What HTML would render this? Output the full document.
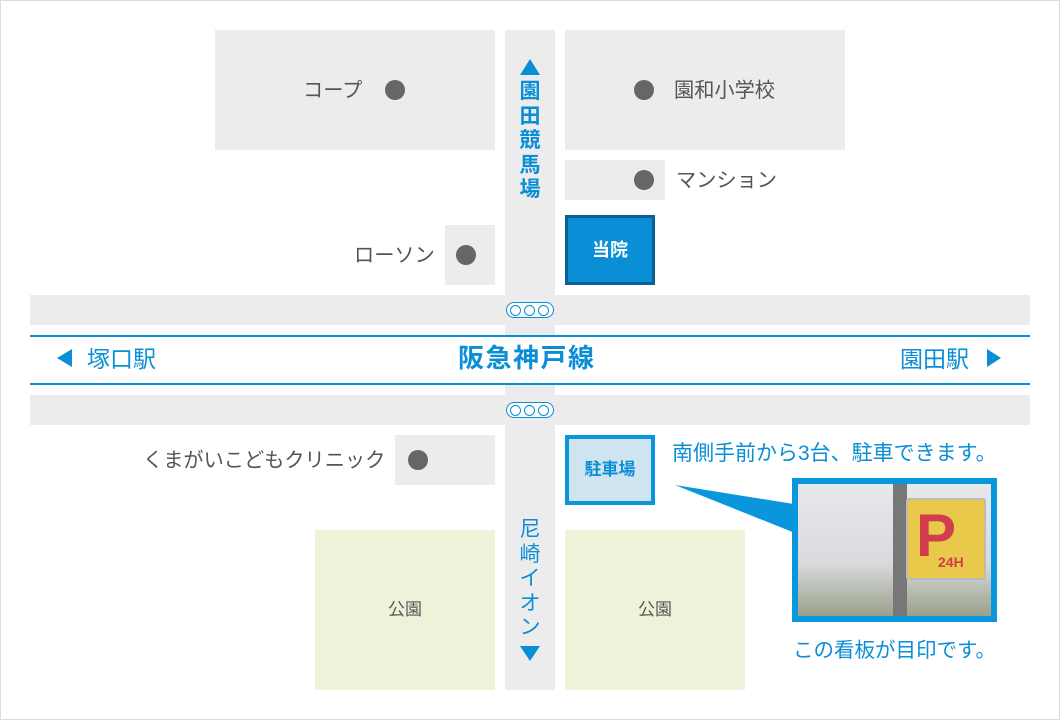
<!DOCTYPE html>
<html><head><meta charset="utf-8"><style>
*{margin:0;padding:0;box-sizing:border-box}
body{width:1060px;height:720px;background:#fff;position:relative;overflow:hidden;font-family:"Liberation Sans","Noto Sans CJK JP",sans-serif}
.a{position:absolute}
.g{background:#ececec}
.t{position:absolute;color:#555;font-size:20.2px;white-space:nowrap;line-height:1}
.b{position:absolute;color:#0a8ed6;font-size:23px;white-space:nowrap;line-height:1}
.dot{position:absolute;width:20px;height:20px;border-radius:50%;background:#666}
.sig{position:absolute;width:48px;height:16px;border:1.5px solid #0a8ed6;border-radius:8px;background:#fff}
.sig i{position:absolute;top:2px;width:11px;height:11px;border:1.5px solid #0a8ed6;border-radius:50%}
.vt{position:absolute;color:#0a8ed6;font-size:21px;line-height:24.5px;width:50px;text-align:center;font-weight:bold}
</style></head><body>
<div class="a" style="left:0;top:0;width:1060px;height:720px;border:1px solid #ddd"></div>
<div class="a g" style="left:505px;top:30px;width:50px;height:660px"></div>
<div class="a g" style="left:30px;top:295px;width:1000px;height:30px"></div>
<div class="a g" style="left:30px;top:395px;width:1000px;height:30px"></div>
<div class="a" style="left:30px;top:335px;width:1000px;height:2px;background:#0a8ed6"></div>
<div class="a" style="left:30px;top:383px;width:1000px;height:2px;background:#0a8ed6"></div>
<div class="a" style="left:30px;top:337px;width:1000px;height:46px;background:#fff"></div>
<div class="sig" style="left:506px;top:302px"><i style="left:3px"></i><i style="left:17px"></i><i style="left:31px"></i></div>
<div class="sig" style="left:506px;top:402px"><i style="left:3px"></i><i style="left:17px"></i><i style="left:31px"></i></div>
<div class="a g" style="left:215px;top:30px;width:280px;height:120px"></div>
<div class="t" style="left:303px;top:81px">コープ</div><div class="dot" style="left:385px;top:80px"></div>
<div class="a g" style="left:565px;top:30px;width:280px;height:120px"></div>
<div class="dot" style="left:634px;top:80px"></div><div class="t" style="left:674px;top:81px">園和小学校</div>
<div class="a g" style="left:565px;top:160px;width:100px;height:40px"></div>
<div class="dot" style="left:634px;top:170px"></div><div class="t" style="left:676px;top:171px">マンション</div>
<div class="a" style="left:565px;top:215px;width:90px;height:70px;background:#0a8ed6;border:3px solid #0a5f95"></div>
<div class="a" style="left:565px;top:240px;width:90px;text-align:center;color:#fff;font-weight:bold;font-size:18px;line-height:20px">当院</div>
<div class="a g" style="left:445px;top:225px;width:50px;height:60px"></div>
<div class="dot" style="left:456px;top:245px"></div><div class="t" style="left:354px;top:246px">ローソン</div>
<div class="a g" style="left:395px;top:435px;width:100px;height:50px"></div>
<div class="dot" style="left:408px;top:450px"></div><div class="t" style="left:143px;top:451px">くまがいこどもクリニック</div>
<div class="a" style="left:565px;top:435px;width:90px;height:70px;background:#cfe4f1;border:4px solid #0a96dc"></div>
<div class="a" style="left:565px;top:460px;width:90px;text-align:center;color:#0a8ed6;font-weight:bold;font-size:17px;line-height:20px">駐車場</div>
<div class="a" style="left:315px;top:530px;width:180px;height:160px;background:#eef2d9"></div>
<div class="t" style="left:315px;top:601px;width:180px;text-align:center;font-size:17px">公園</div>
<div class="a" style="left:565px;top:530px;width:180px;height:160px;background:#eef2d9"></div>
<div class="t" style="left:565px;top:601px;width:180px;text-align:center;font-size:17px">公園</div>
<svg class="a" style="left:0;top:0" width="1060" height="720">
<polygon points="520,75 540,75 530,59" fill="#0a8ed6"/>
<polygon points="520,646 540,646 530,661" fill="#0a8ed6"/>
<polygon points="57,358 72,349 72,367" fill="#0a8ed6"/>
<polygon points="1001,358 987,349 987,367" fill="#0a8ed6"/>
<polygon points="675,485 800,505 800,535" fill="#0a96dc"/>
</svg>
<div class="vt" style="left:505px;top:80px">園<br>田<br>競<br>馬<br>場</div>
<div class="vt" style="left:505px;top:518px;font-weight:normal">尼<br>崎<br>イ<br>オ<br>ン</div>
<div class="b" style="left:87px;top:348px">塚口駅</div>
<div class="b" style="left:900px;top:348px">園田駅</div>
<div class="b" style="left:458px;top:345px;font-weight:bold;font-size:26px;letter-spacing:1.5px">阪急神戸線</div>
<div class="b" style="left:672px;top:443px;font-size:21px">南側手前から3台、駐車できます。</div>
<div class="a" style="left:792px;top:478px;width:205px;height:144px;border:6px solid #0a96dc;background:linear-gradient(180deg,#e6e8ec 0%,#d8dadd 60%,#9aa08a 100%);overflow:hidden">
<div class="a" style="left:95px;top:0;width:14px;height:132px;background:#777"></div>
<div class="a" style="left:108px;top:14px;width:80px;height:82px;background:#e8c94a;border:2px solid #bbb;border-radius:3px"></div>
<div class="a" style="left:118px;top:22px;color:#d23c4c;font-weight:bold;font-size:60px;line-height:60px">P</div>
<div class="a" style="left:140px;top:70px;color:#d23c4c;font-weight:bold;font-size:14px">24H</div>
</div>
<div class="b" style="left:793px;top:641px;font-size:20.5px">この看板が目印です。</div>
</body></html>
